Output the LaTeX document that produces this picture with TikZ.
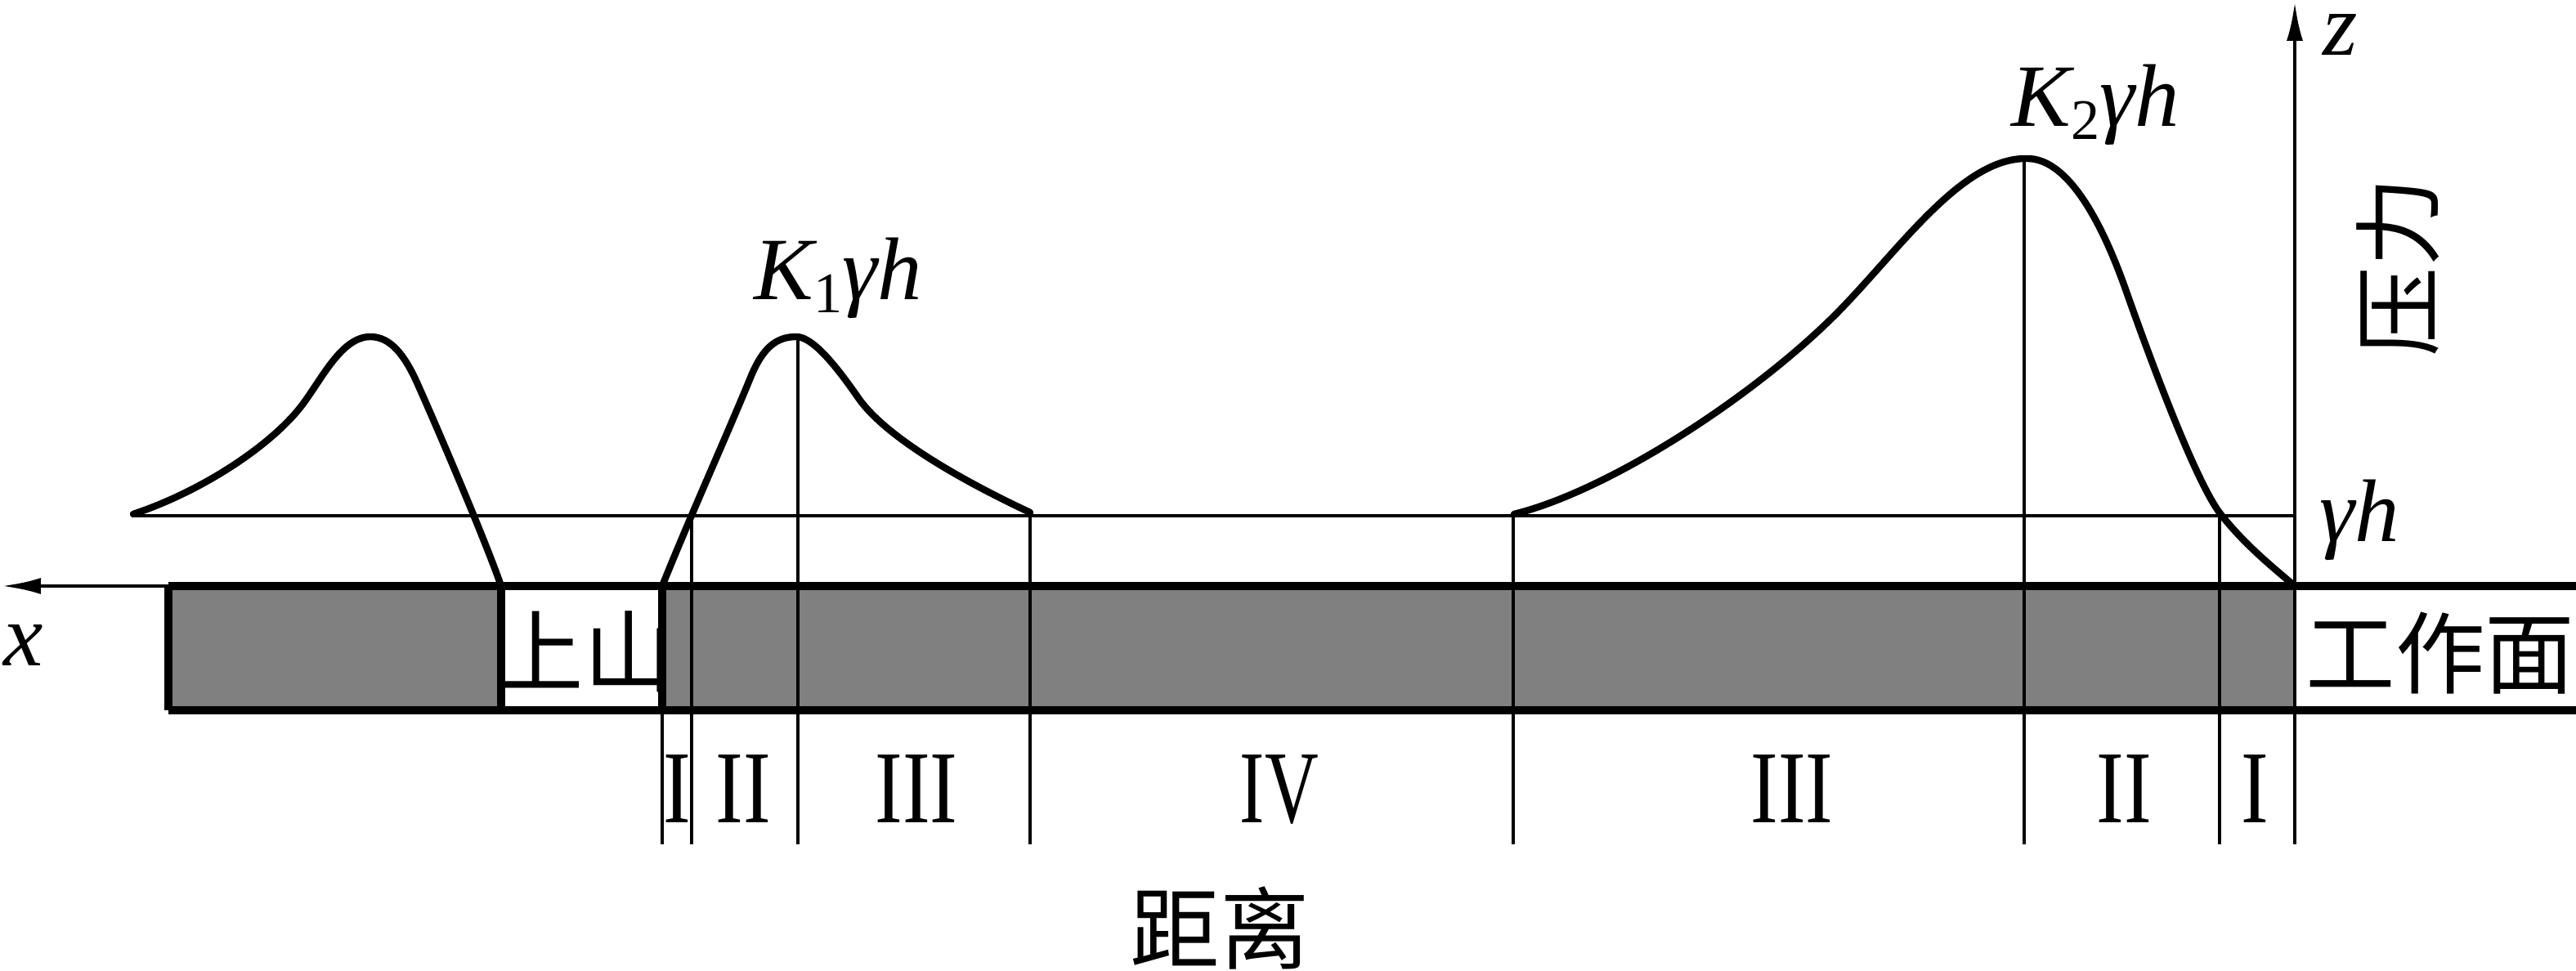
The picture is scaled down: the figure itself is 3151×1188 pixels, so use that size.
\documentclass[tikz,border=0pt]{standalone}
\usepackage{graphicx}
\usepackage{fontspec}
\setmainfont{Liberation Serif}
\newfontfamily\cjk{Noto Sans CJK SC}
\usetikzlibrary{arrows.meta}
\definecolor{rockgray}{RGB}{128,128,128}
\begin{document}
\begin{tikzpicture}[x=0.005cm,y=-0.005cm,
  thickline/.style={line width=1.3pt},
  curveline/.style={line width=1.2pt, line join=round, line cap=round},
  thinline/.style={line width=0.7pt},
  axisline/.style={line width=0.7pt, -{Latex[length=0.24cm,width=0.1cm]}},
  cjklabel/.style={inner sep=0pt, font=\cjk\fontsize{15.6}{16}\selectfont},
  numlabel/.style={inner sep=0pt, anchor=base, font=\fontsize{18}{18}\selectfont},
  mathlabel/.style={inner sep=0pt, anchor=base, font=\fontsize{15.5}{16}\selectfont\itshape},
]
\useasboundingbox (0,0) rectangle (3151,1188);

% key coordinates
\coordinate (rectTL) at (206,717);
\coordinate (rectBL) at (206,869);
\coordinate (topR) at (3151,717);
\coordinate (botR) at (3151,869);
\coordinate (shaftLt) at (613,717);
\coordinate (shaftLb) at (613,869);
\coordinate (shaftRt) at (810,717);
\coordinate (shaftRb) at (810,869);
\coordinate (faceT) at (2807,717);
\coordinate (faceB) at (2807,869);
\coordinate (xtip) at (2,717);
\coordinate (zbot) at (2807,1033);
\coordinate (ztip) at (2807,2);
\coordinate (ghL) at (163,631);
\coordinate (ghR) at (2807,631);

% gray coal seam
\fill[rockgray] (rectTL) rectangle (shaftLb);
\fill[rockgray] (shaftRt) rectangle (faceB);

% thin vertical division lines
\draw[thinline] (810,869) -- (810,1033);
\draw[thinline] (846,631) -- (846,1033);
\draw[thinline] (976,412) -- (976,1033);
\draw[thinline] (1260,627) -- (1260,1033);
\draw[thinline] (1851,631) -- (1851,1033);
\draw[thinline] (2476,194) -- (2476,1033);
\draw[thinline] (2715,631) -- (2715,1033);

% gamma h line
\draw[thinline] (ghL) -- (ghR);

% seam borders
\draw[thickline] (rectTL) -- (topR);
\draw[thickline] (rectBL) -- (botR);
\draw[thickline] (rectTL) -- (rectBL);
\draw[thickline] (shaftLt) -- (shaftLb);
\draw[thickline] (shaftRt) -- (shaftRb);

% axes
\draw[axisline] (rectTL) -- (xtip);
\draw[axisline] (zbot) -- (ztip);

% pressure curves
\draw[curveline] (163,629) .. controls (250,600) and (334,543) .. (370,495)
  .. controls (394,463) and (418,412) .. (453,412)
  .. controls (478,412) and (495,435) .. (510,468)
  .. controls (540,535) and (595,665) .. (shaftLt);
\draw[curveline] (shaftRt) .. controls (845,630) and (888,535) .. (918,462)
  .. controls (933,425) and (950,412) .. (974,412)
  .. controls (995,412) and (1025,451) .. (1050,487)
  .. controls (1080,530) and (1160,580) .. (1260,627);
\draw[curveline] (1852,629) .. controls (1970,600) and (2150,482) .. (2250,380)
  .. controls (2325,303) and (2400,194) .. (2478,194)
  .. controls (2535,192) and (2578,292) .. (2600,354)
  .. controls (2625,425) and (2685,590) .. (2717,630)
  .. controls (2745,665) and (2775,690) .. (faceT);

% labels
\node[mathlabel] (K1) at (1025,367) {K\raisebox{-2.2pt}{\upshape\fontsize{10}{10}\selectfont 1}γh};
\node[mathlabel] (K2) at (2563,155) {K\raisebox{-2.2pt}{\upshape\fontsize{10}{10}\selectfont 2}γh};
\node[mathlabel] (gh) at (2886,663) {γh};
\node[mathlabel] (zl) at (2863,68) {z};
\node[mathlabel] (xl) at (29,815) {x};

\node[numlabel] (n1) at (828,1007) {\scalebox{0.8}[1]{I}};
\node[numlabel] (n2) at (909,1007) {\scalebox{0.8}[1]{II}};
\node[numlabel] (n3) at (1121,1007) {\scalebox{0.8}[1]{III}};
\node[numlabel] (n4) at (1565,1007) {\scalebox{0.72}[1]{IV}};
\node[numlabel] (n5) at (2192,1007) {\scalebox{0.8}[1]{III}};
\node[numlabel] (n6) at (2598,1007) {\scalebox{0.8}[1]{II}};
\node[numlabel] (n7) at (2758,1007) {\scalebox{0.8}[1]{I}};

\node[cjklabel] (face) at (2985,799) {工作面};
\node[cjklabel] (shaft) at (714,797) {上山};
\node[cjklabel] (dist) at (1492,1135) {距离};
\node[cjklabel, rotate=90] (press) at (2933,327) {压力};
\end{tikzpicture}
\end{document}
